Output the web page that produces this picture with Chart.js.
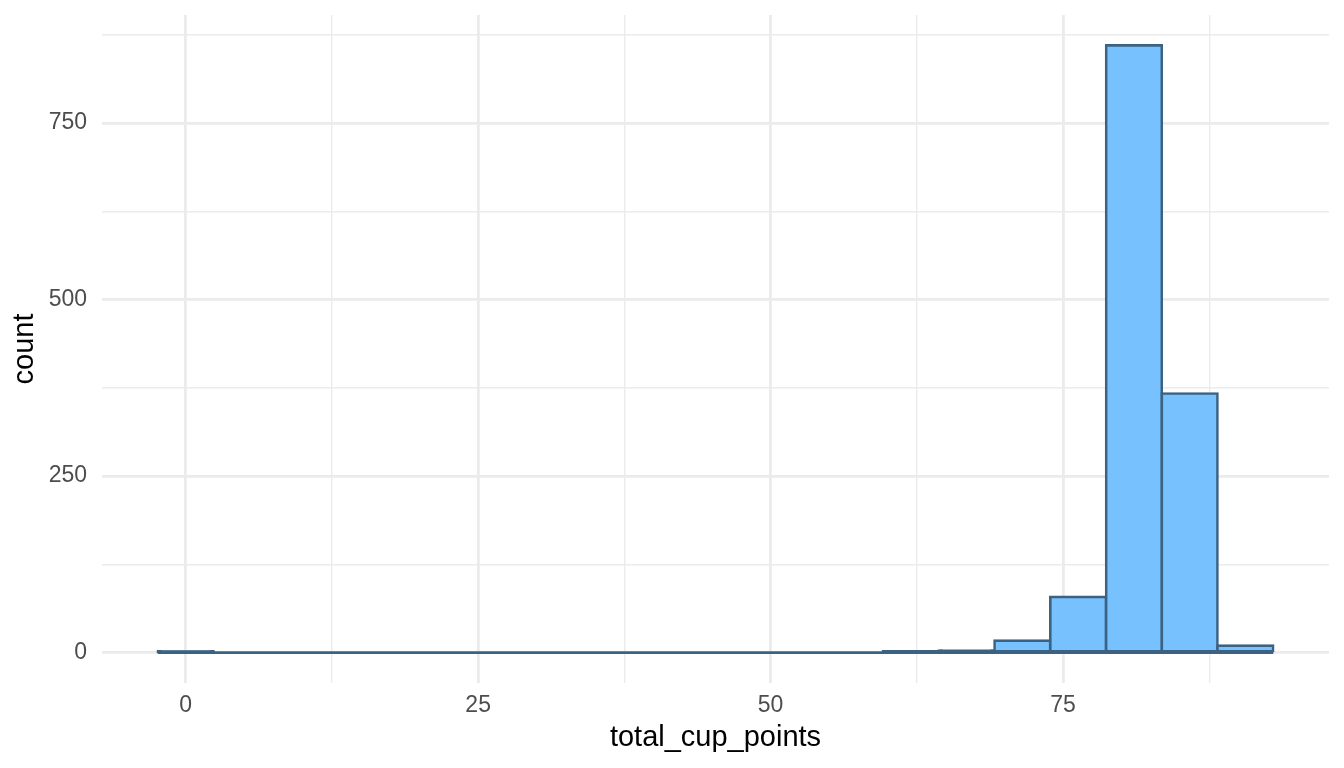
<!DOCTYPE html>
<html>
<head>
<meta charset="utf-8">
<script src="https://cdn.jsdelivr.net/npm/chart.js@4"></script>
<style>
  html, body { margin: 0; padding: 0; background: #ffffff; }
  #wrap { width: 1344px; height: 768px; }
</style>
</head>
<body>
<div id="wrap"><canvas id="c" width="1344" height="768"></canvas></div>
<script>
// Histogram bins (centers) of total_cup_points and their counts
const binCenters = [0, 4.77, 9.54, 14.30, 19.07, 23.84, 28.61, 33.38, 38.14, 42.91,
                    47.68, 52.45, 57.22, 61.98, 66.75, 71.52, 76.29, 81.06, 85.82, 90.58];
const counts     = [1, 0, 0, 0, 0, 0, 0, 0, 0, 0,
                    0, 0, 0, 2, 3, 17, 79, 860, 367, 10];
const xTickValues = [0, 12.5, 25, 37.5, 50, 62.5, 75, 87.5];
const xTickLabels = ['0', '', '25', '', '50', '', '75', ''];
const yTickValues = [0, 125, 250, 375, 500, 625, 750, 875];
const yTickLabels = ['0', '', '250', '', '500', '', '750', ''];
const xTitle = 'total_cup_points';
const yTitle = 'count';

const binWidth = binCenters[1] - binCenters[0];
const xLo = binCenters[0] - binWidth / 2;
const xHi = binCenters[binCenters.length - 1] + binWidth / 2;
const xPad = (xHi - xLo) * 0.05;
const yMaxData = Math.max(...counts);

const barData = binCenters.map((c, i) => ({ x: c, y: counts[i] }));
const baseData = [{ x: xLo, y: 0 }, { x: xHi, y: 0 }];

const GRID = '#EBEBEB';
const FILL = '#77C1FE';
const EDGE = '#3C6282';
const FONT = "'Liberation Sans', Arial, Helvetica, sans-serif";

function clearPad(s) { s.paddingTop = 0; s.paddingBottom = 0; s.paddingLeft = 0; s.paddingRight = 0; }

new Chart(document.getElementById('c'), {
  type: 'bar',
  data: {
    datasets: [
      {
        type: 'bar',
        data: barData,
        // very thin bars are fully covered by their outline in the reference
        backgroundColor: (ctx) => (ctx.raw && ctx.raw.y < 5) ? EDGE : FILL,
        borderColor: EDGE,
        borderWidth: 2.6,
        borderSkipped: false,
        inflateAmount: 1.3,
        barPercentage: 1,
        categoryPercentage: 1,
        order: 1
      },
      {
        type: 'line',
        data: baseData,
        borderColor: EDGE,
        borderWidth: 2.8,
        pointRadius: 0,
        fill: false,
        order: 2
      }
    ]
  },
  options: {
    responsive: false,
    animation: false,
    devicePixelRatio: 1,
    layout: { padding: { top: 15, right: 15, left: 0, bottom: 0 } },
    plugins: { legend: { display: false }, tooltip: { enabled: false } },
    scales: {
      x: {
        type: 'linear',
        offset: false,
        min: xLo - xPad,
        max: xHi + xPad,
        afterBuildTicks: (s) => { s.ticks = xTickValues.map(v => ({ value: v })); },
        afterFit: (s) => { s.height = 85; clearPad(s); },
        ticks: {
          autoSkip: false,
          maxRotation: 0,
          padding: 9,
          color: '#4D4D4D',
          font: { family: FONT, size: 23 },
          callback: (v) => { const i = xTickValues.indexOf(v); return i >= 0 ? xTickLabels[i] : ''; }
        },
        grid: {
          offset: false,
          color: GRID,
          drawTicks: false,
          lineWidth: (ctx) => (ctx.tick && ctx.tick.value % 25 === 0) ? 2.8 : 1.4
        },
        border: { display: false },
        title: {
          display: true,
          text: xTitle,
          color: '#000000',
          font: { family: FONT, size: 29, lineHeight: 1.2 },
          padding: { top: 0, bottom: 12.6 }
        }
      },
      y: {
        type: 'linear',
        min: -yMaxData * 0.05,
        max: yMaxData * 1.05,
        afterBuildTicks: (s) => { s.ticks = yTickValues.map(v => ({ value: v })); },
        afterFit: (s) => { s.width = 102; clearPad(s); },
        ticks: {
          autoSkip: false,
          padding: 15,
          color: '#4D4D4D',
          font: { family: FONT, size: 23 },
          callback: (v) => { const i = yTickValues.indexOf(v); return i >= 0 ? yTickLabels[i] : ''; }
        },
        grid: {
          color: GRID,
          drawTicks: false,
          lineWidth: (ctx) => (ctx.tick && ctx.tick.value % 250 === 0) ? 2.8 : 1.4
        },
        border: { display: false },
        title: {
          display: true,
          text: yTitle,
          color: '#000000',
          font: { family: FONT, size: 29, lineHeight: 1.2 },
          padding: { top: 7.6, bottom: 0 }
        }
      }
    }
  }
});
</script>
</body>
</html>
